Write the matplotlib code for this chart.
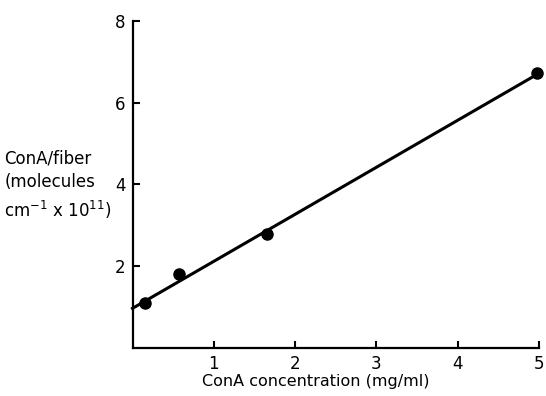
import matplotlib
matplotlib.use('Agg')
import matplotlib.pyplot as plt

# measured points
conc = [0.15, 0.57, 1.65, 4.98]
cona_fiber = [1.10, 1.80, 2.80, 6.72]

# fitted line
fit_x = [0.0, 5.0]
fit_y = [0.97, 6.72]

xticks = [1, 2, 3, 4, 5]
yticks = [2, 4, 6, 8]

fig = plt.figure(figsize=(5.46, 3.96), dpi=100)
ax = fig.add_axes([0.2427, 0.1212, 0.7445, 0.826])

ax.plot(fit_x, fit_y, color='black', lw=2.2, clip_on=False)
ax.plot(conc, cona_fiber, 'o', color='black', ms=8, clip_on=False)

ax.set_xlim(0, 5)
ax.set_ylim(0, 8)
ax.set_xticks(xticks)
ax.set_yticks(yticks)
ax.tick_params(direction='in', length=5, width=1.5, labelsize=12, pad=5)

for s in ['top', 'right']:
    ax.spines[s].set_visible(False)
for s in ['left', 'bottom']:
    ax.spines[s].set_linewidth(1.6)

ax.set_xlabel('ConA concentration (mg/ml)', fontsize=11.5)
ax.xaxis.set_label_coords(0.451, -0.08)

fig.text(0.008, 0.533, 'ConA/fiber\n(molecules\ncm$^{-1}$ x 10$^{11}$)',
         fontsize=12, ha='left', va='center', linespacing=1.42)

fig.savefig('out.png', dpi=100)
